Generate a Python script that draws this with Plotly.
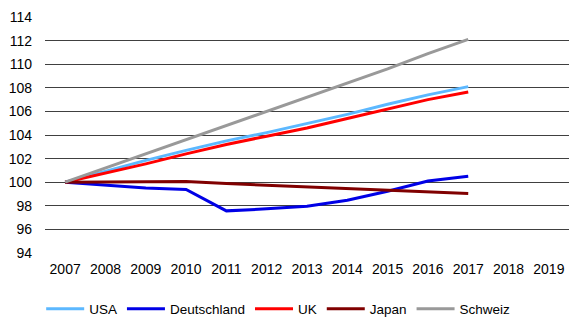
import plotly.graph_objects as go

years = [str(y) for y in range(2007, 2020)]
data_years = [str(y) for y in range(2007, 2018)]

usa = [100, 100.95, 101.85, 102.7, 103.5, 104.2, 104.95, 105.75, 106.6, 107.4, 108.1]
deutschland = [100, 99.72, 99.5, 99.38, 97.57, 97.74, 97.97, 98.47, 99.24, 100.1, 100.5]
uk = [100, 100.75, 101.55, 102.4, 103.2, 103.9, 104.6, 105.4, 106.2, 107.0, 107.65]
japan = [100, 100.0, 100.02, 100.06, 99.89, 99.75, 99.6, 99.45, 99.3, 99.18, 99.04]
schweiz = [100, 101.2, 102.4, 103.6, 104.8, 106.0, 107.2, 108.4, 109.6, 110.9, 112.1]

y_ticks = list(range(94, 115, 2))

series = [
    ("USA", usa, "#5cb8ff"),
    ("Deutschland", deutschland, "#0000e6"),
    ("UK", uk, "#ff0000"),
    ("Japan", japan, "#800000"),
    ("Schweiz", schweiz, "#999999"),
]

fig = go.Figure()
for name, vals, color in series:
    fig.add_trace(go.Scatter(
        x=data_years, y=vals, name=name, mode="lines",
        line=dict(color=color, width=3),
    ))

font = "Liberation Sans, Arial, sans-serif"
fig.update_layout(
    width=571, height=320,
    margin=dict(l=45, r=2, t=17, b=67, autoexpand=False),
    paper_bgcolor="white", plot_bgcolor="white",
    font=dict(family=font, size=14, color="#000000"),
    showlegend=True,
    legend=dict(
        orientation="h", x=0.445, xanchor="center", y=-0.237, yanchor="middle",
        font=dict(size=13.5), itemwidth=38, tracegroupgap=0,
    ),
    xaxis=dict(
        type="category", categoryorder="array", categoryarray=years,
        tickvals=years, range=[-0.5, 12.5], automargin=False,
        showgrid=False, showline=False, zeroline=False,
        ticks="", tickfont=dict(size=14), ticklabelstandoff=6,
    ),
    yaxis=dict(
        range=[94, 114], tickvals=y_ticks, automargin=False,
        showgrid=True, gridcolor="#404040", gridwidth=1,
        zeroline=False, showline=False, ticks="",
        ticklabelstandoff=12, tickfont=dict(size=14),
    ),
)

fig.write_html("out.html")
